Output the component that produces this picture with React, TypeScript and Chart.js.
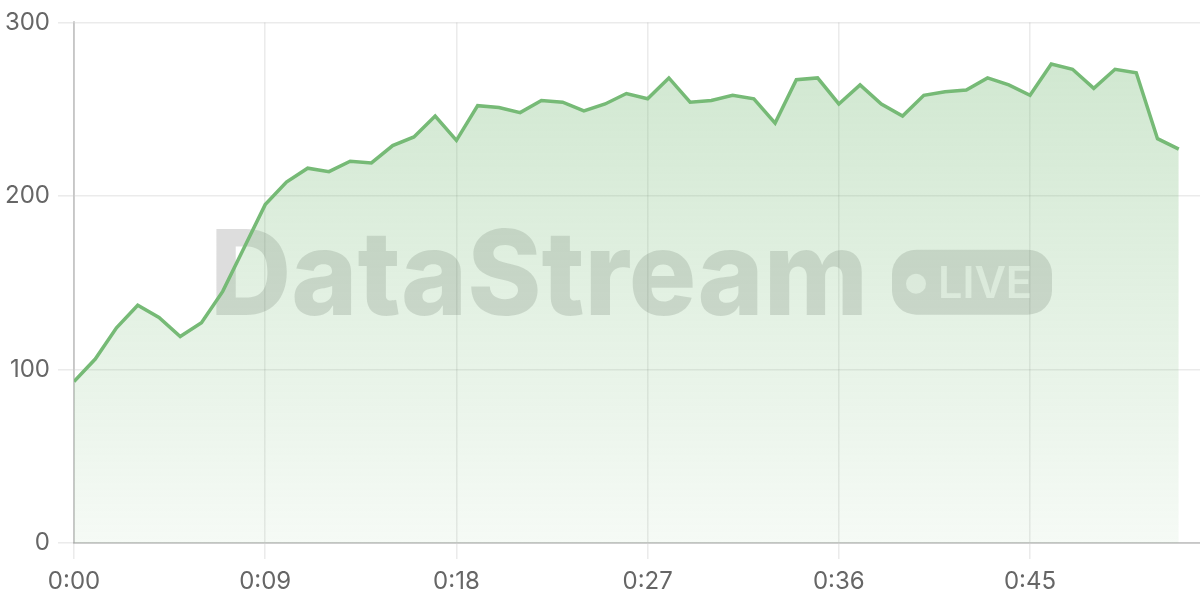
import React, { useEffect, useRef } from 'react';
import { Chart, registerables } from 'chart.js';

Chart.register(...registerables);

// seconds since start (x) and the streamed value at each second (y)
const SECONDS = [
  0, 1, 2, 3, 4, 5, 6, 7, 8, 9, 10, 11, 12, 13, 14, 15, 16, 17, 18, 19, 20, 21, 22, 23, 24, 25, 26,
  27, 28, 29, 30, 31, 32, 33, 34, 35, 36, 37, 38, 39, 40, 41, 42, 43, 44, 45, 46, 47, 48, 49, 50, 51, 52,
];
const VALUES = [
  93, 106, 124, 137, 130, 119, 127, 145, 170, 195, 208, 216, 214, 220, 219, 229, 234, 246, 232, 252,
  251, 248, 255, 254, 249, 253, 259, 256, 268, 254, 255, 258, 256, 242, 267, 268, 253, 264, 253, 246,
  258, 260, 261, 268, 264, 258, 276, 273, 262, 273, 271, 233, 227,
];
const X_MAX = 53;
const X_STEP = 9;
const Y_MIN = 0;
const Y_MAX = 300;
const Y_STEP = 100;

const LINE = 'rgb(118, 186, 118)';
const TICK_FONT = { family: 'Inter', size: 24 };

const fmtTime = (v: number) => `${Math.floor(v / 60)}:${String(v % 60).padStart(2, '0')}`;

// "DataStream ●LIVE" mark behind the series
const watermark = {
  id: 'watermark',
  beforeDatasetsDraw(chart: Chart) {
    const { ctx, chartArea: a } = chart;
    const cx = (a.left + a.right) / 2;
    const cy = (a.top + a.bottom) / 2;
    ctx.save();
    ctx.fillStyle = 'rgba(0, 0, 0, 0.135)';
    ctx.textBaseline = 'alphabetic';
    ctx.textAlign = 'left';
    ctx.font = '800 118px Inter';
    ctx.fillText('DataStream', cx - 427, cy + 32, 658);

    ctx.beginPath();
    ctx.roundRect(cx + 255, cy - 33, 160, 65, 24);
    ctx.fill();

    ctx.fillStyle = 'rgba(255, 255, 255, 0.75)';
    ctx.beginPath();
    ctx.arc(cx + 279, cy + 1, 10, 0, Math.PI * 2);
    ctx.fill();
    ctx.font = '600 44px Inter';
    ctx.fillText('LIVE', cx + 301, cy + 15, 94);
    ctx.restore();
  },
};

const StreamChart: React.FC = () => {
  const chartRef = useRef<HTMLCanvasElement>(null);

  useEffect(() => {
    let chartInstance: Chart | undefined;
    const ctx = chartRef.current?.getContext('2d');
    if (ctx) {
      chartInstance = new Chart(ctx, {
        type: 'line',
        data: {
          labels: SECONDS,
          datasets: [
            {
              data: VALUES,
              borderColor: LINE,
              borderWidth: 3.5,
              pointRadius: 0,
              tension: 0,
              fill: 'origin',
              backgroundColor: (c: any) => {
                const area = c.chart.chartArea;
                if (!area) return 'rgba(118, 186, 118, 0.2)';
                const g = c.chart.ctx.createLinearGradient(0, area.top, 0, area.bottom);
                g.addColorStop(0, 'rgba(118, 186, 118, 0.36)');
                g.addColorStop(1, 'rgba(118, 186, 118, 0.07)');
                return g;
              },
            },
          ],
        },
        options: {
          animation: false,
          responsive: true,
          maintainAspectRatio: false,
          layout: { padding: { top: 18, right: 0, left: 0, bottom: 0 } },
          plugins: {
            legend: { display: false },
            tooltip: { enabled: false },
          },
          scales: {
            x: {
              type: 'linear',
              min: 0,
              max: X_MAX,
              afterFit: (s: any) => {
                s.height = 57;
              },
              grid: { color: 'rgba(0, 0, 0, 0.08)', tickLength: 16, lineWidth: 1.6 },
              border: { color: 'rgba(0, 0, 0, 0.16)', width: 2 },
              ticks: {
                stepSize: X_STEP,
                includeBounds: false,
                padding: 8,
                color: '#666',
                font: TICK_FONT,
                maxRotation: 0,
                callback: (v: any) => fmtTime(Number(v)),
              },
            },
            y: {
              min: Y_MIN,
              max: Y_MAX,
              afterFit: (s: any) => {
                s.width = 74;
              },
              grid: { color: 'rgba(0, 0, 0, 0.08)', tickLength: 16, lineWidth: 1.6 },
              border: { color: 'rgba(0, 0, 0, 0.16)', width: 2 },
              ticks: { stepSize: Y_STEP, padding: 8, color: '#666', font: TICK_FONT },
            },
          },
        },
        plugins: [watermark],
      });
    }
    return () => chartInstance?.destroy();
  }, []);

  return (
    <div style={{ position: 'relative', width: 1200, height: 600, background: '#fff' }}>
      <canvas ref={chartRef}></canvas>
    </div>
  );
};

export default function App() {
  useEffect(() => {
    document.body.style.margin = '0';
  }, []);
  return <StreamChart />;
}
